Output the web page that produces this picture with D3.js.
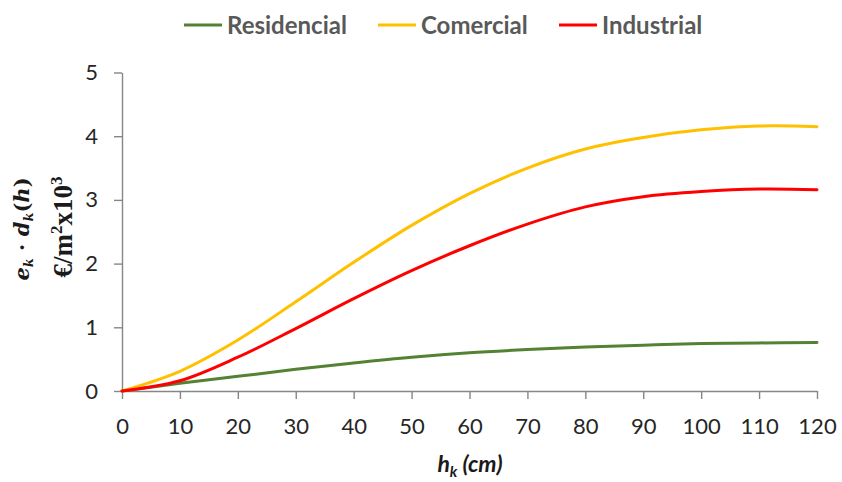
<!DOCTYPE html>
<html><head><meta charset="utf-8">
<script src="https://cdn.jsdelivr.net/npm/d3@7"></script>
<style>
html,body{margin:0;padding:0;background:#fff;}
svg{display:block;}
</style></head>
<body>
<svg id="chart" width="842" height="482"></svg>
<script>
const hValues = [0,10,20,30,40,50,60,70,80,90,100,110,120];
const residencial = [0,0.12,0.23,0.34,0.44,0.53,0.60,0.65,0.69,0.72,0.745,0.755,0.76];
const comercial = [0,0.31,0.80,1.40,2.02,2.60,3.10,3.50,3.80,3.98,4.10,4.16,4.15];
const industrial = [0,0.16,0.53,0.98,1.45,1.89,2.28,2.62,2.89,3.05,3.13,3.17,3.16];
const seriesNames = ["Residencial","Comercial","Industrial"];
const seriesColors = ["#548235","#FFC000","#FF0000"];
const xTicks = [0,10,20,30,40,50,60,70,80,90,100,110,120];
const yTicks = [0,1,2,3,4,5];

const svg = d3.select("#chart");
const x = d3.scaleLinear().domain([0,120]).range([122,817]);
const y = d3.scaleLinear().domain([0,5]).range([391,72.5]);
const axisColor = "#868686";
const font = "Lato, 'Open Sans', sans-serif";

// y axis
const ya = svg.append("g").attr("transform","translate(122,0)")
  .call(d3.axisLeft(y).tickValues(yTicks).tickFormat(d3.format("d")).tickSize(8).tickSizeOuter(0).tickPadding(16));
// x axis
const xa = svg.append("g").attr("transform","translate(0,391)")
  .call(d3.axisBottom(x).tickValues(xTicks).tickFormat(d3.format("d")).tickSize(8).tickSizeOuter(0).tickPadding(19));
[ya,xa].forEach(a=>{
  a.select(".domain").attr("stroke",axisColor).attr("stroke-width",1.4);
  a.selectAll(".tick line").attr("stroke",axisColor).attr("stroke-width",1.4);
  a.selectAll(".tick text").attr("fill","#262626").style("font-family",font).style("font-size","22px");
});

const data = [residencial, comercial, industrial];
const line = d3.line().x((d,i)=>x(hValues[i])).y(d=>y(d)).curve(d3.curveCatmullRom.alpha(0.5));
data.forEach((s,k)=>{
  svg.append("path").datum(s).attr("d",line)
    .attr("fill","none").attr("stroke",seriesColors[k]).attr("stroke-width",3)
    .attr("stroke-linecap","round");
});

// legend
const legendX = [184,378,559];
seriesNames.forEach((n,k)=>{
  const g = svg.append("g").attr("transform",`translate(${legendX[k]},25)`);
  g.append("line").attr("x1",0).attr("x2",38).attr("y1",0).attr("y2",0)
    .attr("stroke",seriesColors[k]).attr("stroke-width",3.2);
  g.append("text").attr("x",43).attr("y",8.5).text(n)
    .attr("fill","#595959").style("font-family",font).style("font-weight","bold").style("font-size","24px");
});

// y label
const yl = svg.append("text").attr("transform","translate(29,229) rotate(-90)")
  .attr("text-anchor","middle").style("font-family","'DejaVu Serif', 'Liberation Serif', serif")
  .style("font-weight","bold").style("font-size","21px").attr("fill","#1a1a1a");
yl.append("tspan").style("font-style","italic").text("e");
yl.append("tspan").style("font-style","italic").style("font-size","13px").attr("dy",4).text("k");
yl.append("tspan").attr("dy",-4).text(" · ");
yl.append("tspan").style("font-style","italic").text("d");
yl.append("tspan").style("font-style","italic").style("font-size","13px").attr("dy",4).text("k");
yl.append("tspan").attr("dy",-4).text("(");
yl.append("tspan").style("font-style","italic").text("h");
yl.append("tspan").text(")");

const yl2 = svg.append("text").attr("transform","translate(72,227) rotate(-90)")
  .attr("text-anchor","middle").style("font-family","'Liberation Serif', 'DejaVu Serif', serif")
  .style("font-weight","bold").style("font-size","27px").attr("fill","#1a1a1a");
yl2.append("tspan").text("€/m");
yl2.append("tspan").style("font-size","17px").attr("dy",-10).text("2");
yl2.append("tspan").attr("dy",10).text("x10");
yl2.append("tspan").style("font-size","17px").attr("dy",-10).text("3");

// x label
const xl = svg.append("text").attr("x",470).attr("y",472).attr("text-anchor","middle")
  .style("font-family",font).style("font-weight","bold").style("font-style","italic")
  .style("font-size","23px").attr("fill","#1a1a1a");
xl.append("tspan").text("h");
xl.append("tspan").style("font-size","15px").attr("dy",5).text("k");
xl.append("tspan").attr("dy",-5).text(" (cm)");
</script>
</body></html>
